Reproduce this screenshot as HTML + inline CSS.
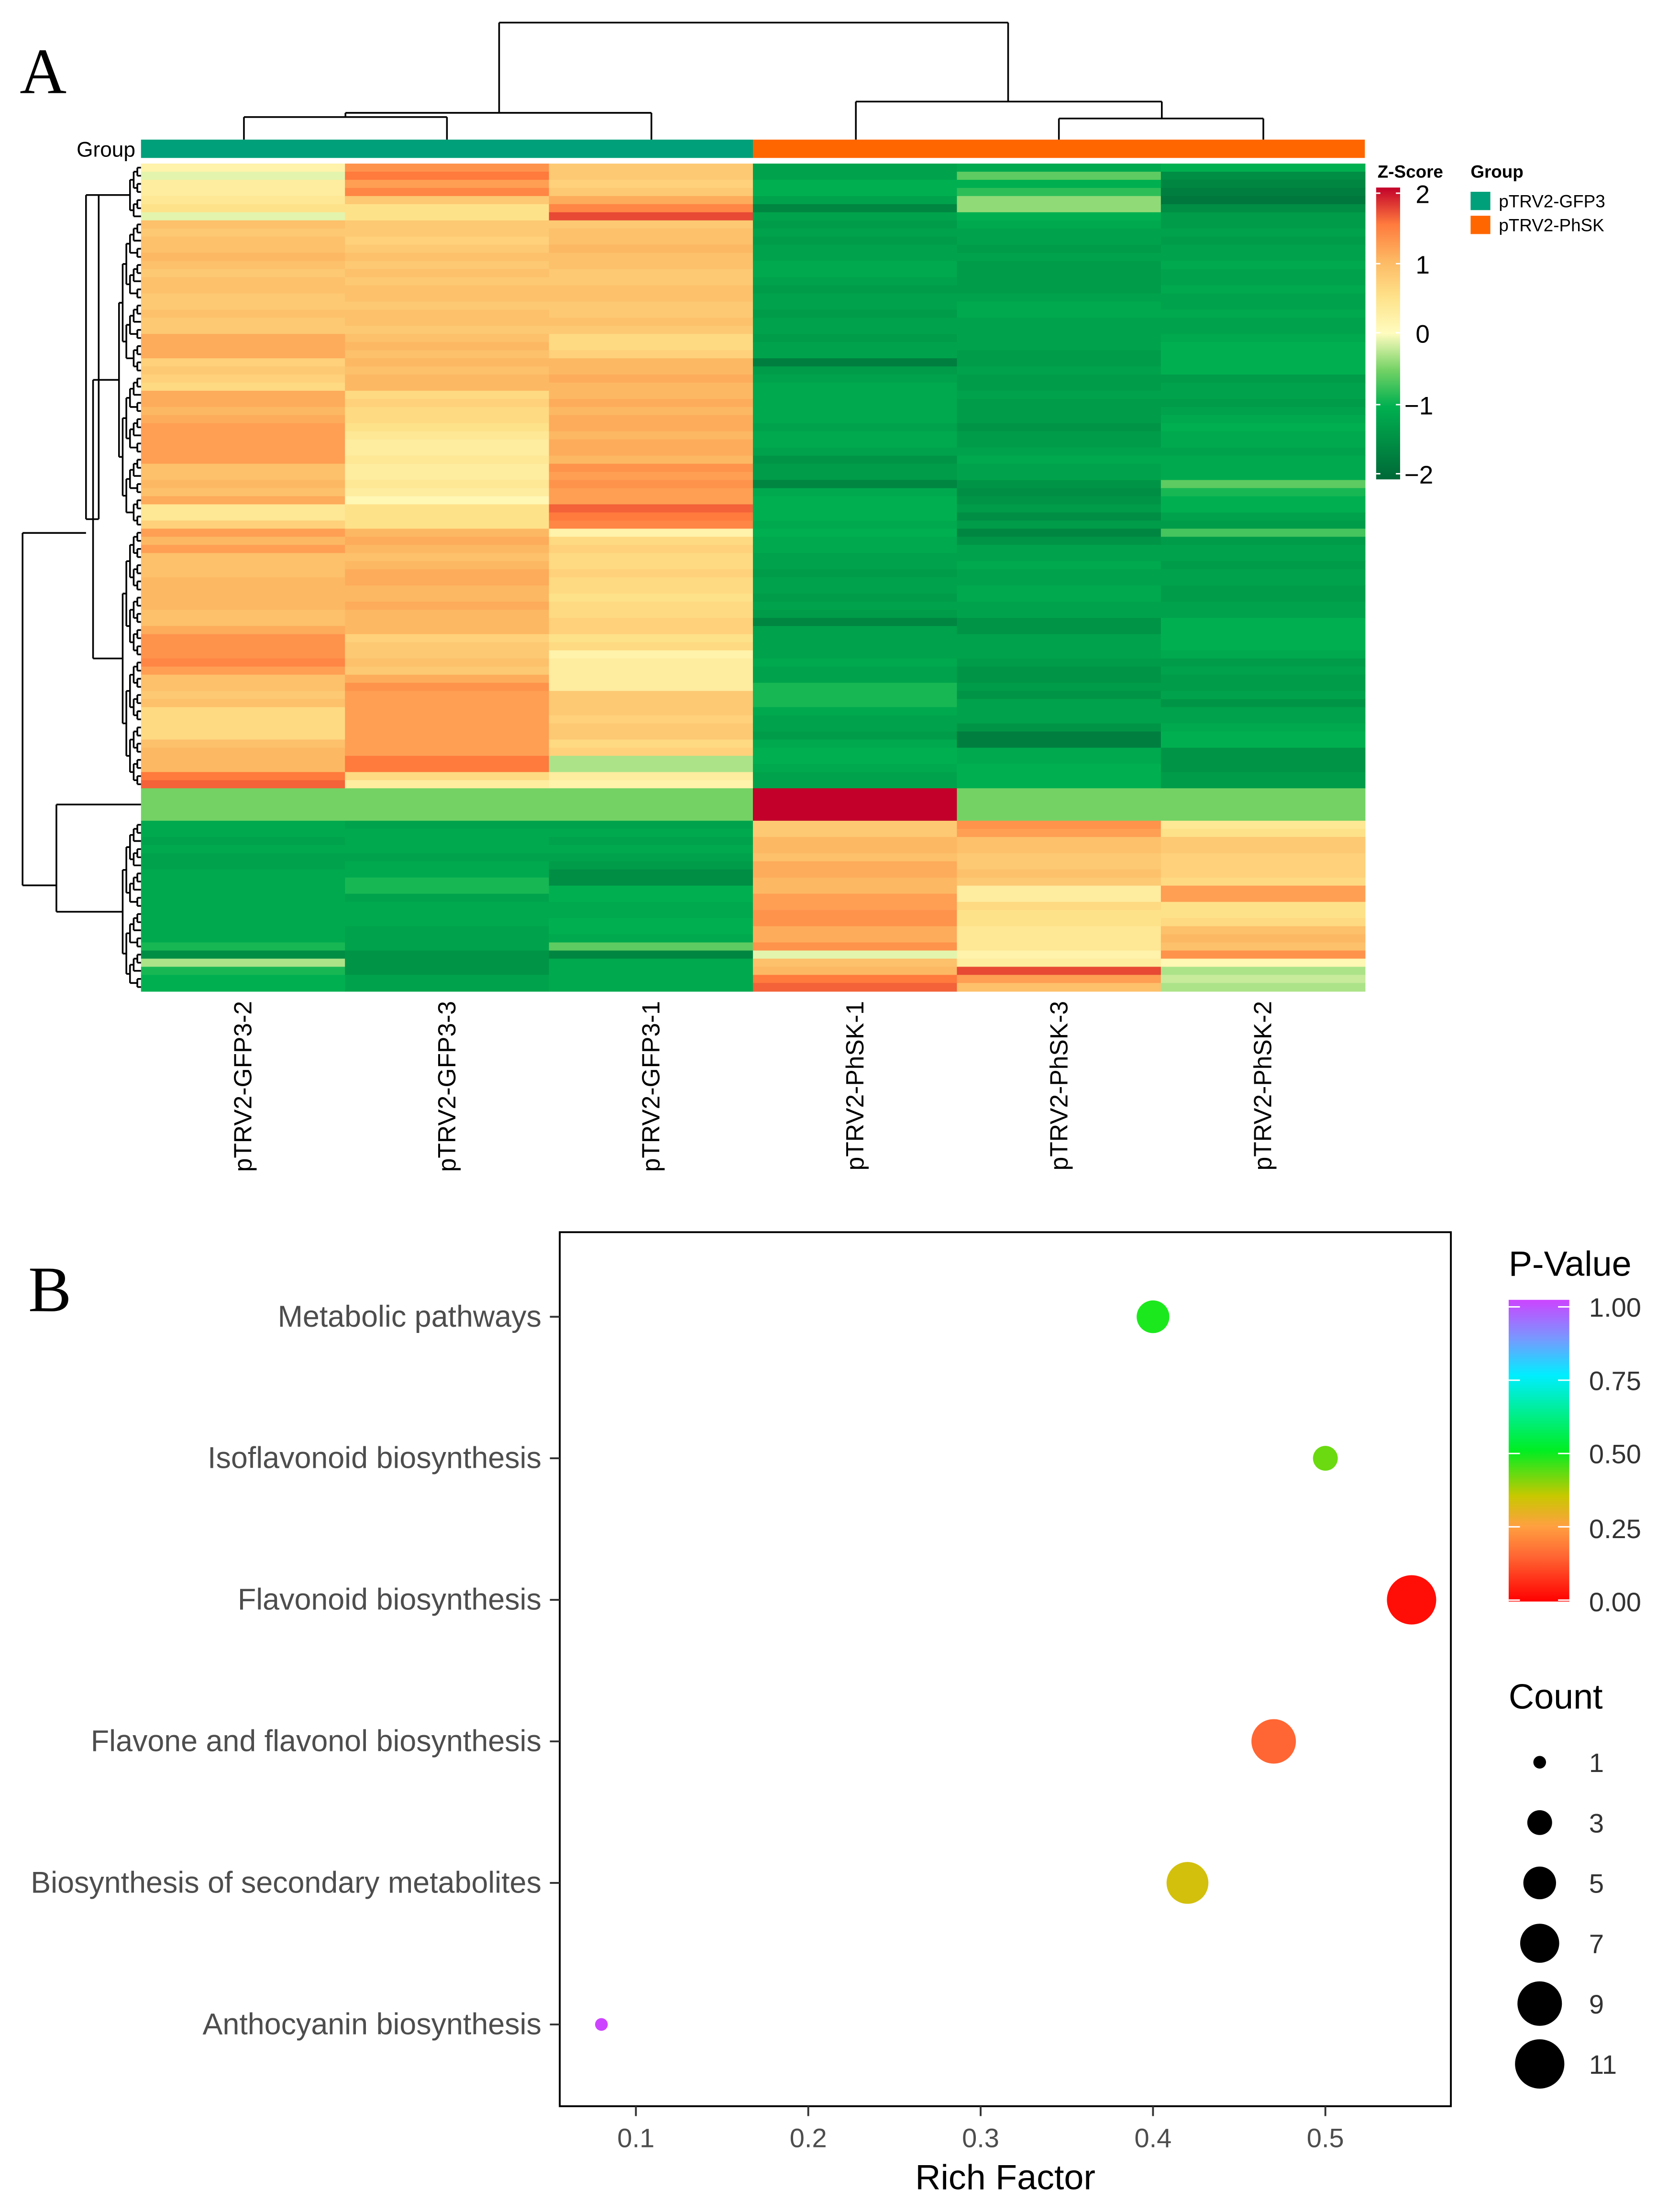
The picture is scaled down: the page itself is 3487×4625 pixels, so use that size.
<!DOCTYPE html>
<html><head><meta charset="utf-8"><style>
html,body{margin:0;padding:0;background:#fff}
svg{display:block}
</style></head><body>
<svg id="fig" xmlns="http://www.w3.org/2000/svg" width="3487" height="4625" viewBox="0 0 1183 1569" font-family="Liberation Sans, sans-serif">
<defs>
<linearGradient id="zgrad" x1="0" y1="1" x2="0" y2="0">
<stop offset="0" stop-color="#006837"/><stop offset="0.17" stop-color="#009a48"/><stop offset="0.25" stop-color="#00b050"/><stop offset="0.375" stop-color="#74d265"/><stop offset="0.5" stop-color="#fffcbf"/><stop offset="0.625" stop-color="#fee28a"/><stop offset="0.75" stop-color="#fdb863"/><stop offset="0.875" stop-color="#ff7a3d"/><stop offset="1" stop-color="#c2002a"/>
</linearGradient>
<linearGradient id="pgrad" x1="0" y1="1" x2="0" y2="0">
<stop offset="0" stop-color="#ff0000"/><stop offset="0.15" stop-color="#ff6633"/><stop offset="0.25" stop-color="#ffa040"/><stop offset="0.35" stop-color="#c8c800"/><stop offset="0.5" stop-color="#00ee22"/><stop offset="0.75" stop-color="#00eeff"/><stop offset="0.87" stop-color="#7799ff"/><stop offset="1" stop-color="#cc44ff"/>
</linearGradient>
</defs>
<text x="14" y="66" font-family="Liberation Serif, serif" font-size="46">A</text>
<text x="20" y="930" font-family="Liberation Serif, serif" font-size="46">B</text>
<g id="heat"></g>
<g id="dendro" stroke="#000" stroke-width="1.2" fill="none"></g>
<g stroke="#000" stroke-width="1.2" fill="none">
<path d="M354 16H715M354 16V80M715 16V72M245 80H462M245 80V83M173 83H317M173 83V99M317 83V99M462 80V99M607 72H824M607 72V99M824 72V84M751 84H896M751 84V99M896 84V99"/>
</g>
<text x="96" y="111" font-size="15" text-anchor="end">Group</text>
<rect x="100" y="99" width="434" height="13" fill="#00a07a"/>
<rect x="534" y="99" width="434" height="13" fill="#ff6600"/>
<g id="collabels"></g>
<g>
<text x="977" y="126" font-size="12.5" font-weight="bold">Z-Score</text>
<rect x="976" y="133" width="17" height="207" fill="url(#zgrad)"/>
<g font-size="18"><text x="1004" y="144">2</text><text x="1004" y="194">1</text><text x="1004" y="243">0</text><text x="996" y="294">−1</text><text x="996" y="343">−2</text></g>
<path d="M976 137h3M990 137h3M976 187h3M990 187h3M976 236h3M990 236h3M976 287h3M990 287h3M976 336h3M990 336h3" stroke="#fff" stroke-width="1"/>
</g>
<g>
<text x="1043" y="126" font-size="12.5" font-weight="bold">Group</text>
<rect x="1043" y="136" width="14" height="13" fill="#00a07a"/><text x="1063" y="147" font-size="12.5">pTRV2-GFP3</text>
<rect x="1043" y="153" width="14" height="13" fill="#ff6600"/><text x="1063" y="164" font-size="12.5">pTRV2-PhSK</text>
</g>
<g id="bplot">
<rect x="397" y="874" width="632" height="620" fill="none" stroke="#000" stroke-width="1.3"/>
</g>
<text x="713" y="1553" font-size="25" text-anchor="middle">Rich Factor</text>
<g>
<text x="1070" y="905" font-size="25">P-Value</text>
<rect x="1070" y="922" width="43" height="214" fill="url(#pgrad)"/>
<g font-size="19" fill="#333"><text x="1127" y="934">1.00</text><text x="1127" y="986">0.75</text><text x="1127" y="1038">0.50</text><text x="1127" y="1091">0.25</text><text x="1127" y="1143">0.00</text></g>
<path d="M1070 927h8M1105 927h8M1070 979h8M1105 979h8M1070 1031h8M1105 1031h8M1070 1083h8M1105 1083h8M1070 1135h8M1105 1135h8" stroke="#fff" stroke-width="1"/>
</g>
<g id="sizeleg">
<text x="1070" y="1212" font-size="25">Count</text>
</g>
</svg>
<script>
var NS='http://www.w3.org/2000/svg';
// Heatmap data (z-scores), rows top->bottom, one array per sample column
var sampleNames=['pTRV2-GFP3-2','pTRV2-GFP3-3','pTRV2-GFP3-1','pTRV2-PhSK-1','pTRV2-PhSK-3','pTRV2-PhSK-2'];
var colGFP3_2=[0.2,-0.1,0.3,0.3,0.4,0.5,-0.1,
0.9,0.8,0.9,0.9,1.0,0.9,0.8,0.9,0.9,0.8,0.8,0.9,0.8,0.8,
1.1,1.1,1.1,0.7,0.8,0.7,0.6,
1.1,1.1,1.0,1.1,1.2,1.2,1.2,1.2,1.2,
0.9,0.9,1.0,0.9,1.1,0.4,0.4,0.7,1.2,1.0,1.2,
0.9,0.9,0.9,1.0,1.0,1.0,1.0,0.9,0.9,1.1,
1.3,1.3,1.3,1.4,1.2,0.9,0.9,0.8,0.9,0.6,0.6,0.6,0.6,0.9,1.0,1.0,1.0,1.5,1.6,
-0.5,-0.5,-0.5,-0.5,
-1.1,-1.1,-1.2,-1.1,-1.2,-1.2,-1.1,-1.1,-1.1,-1.1,-1.1,-1.1,-1.1,-1.1,-1.1,
-0.9,-1.5,-0.3,-0.9,-1.0,-1.0];
var colGFP3_3=[1.3,1.5,1.2,1.4,0.8,0.5,0.5,
0.8,0.8,0.7,0.8,0.9,0.8,0.9,0.8,0.9,0.9,0.8,0.9,0.9,0.8,
0.9,1.0,0.9,1.0,0.9,1.0,1.0,
0.6,0.7,0.6,0.6,0.5,
0.4,0.3,0.3,0.4,0.3,0.3,0.4,0.3,
0.1,0.5,0.5,0.5,
1.0,1.1,1.0,0.9,1.0,1.1,1.1,1.0,1.0,1.1,1.0,1.0,1.0,
0.7,0.8,0.8,0.9,0.8,1.1,1.3,
1.2,1.2,1.2,1.2,1.2,1.2,1.2,1.2,1.5,1.5,0.6,0.3,
-0.5,-0.5,-0.5,-0.5,
-1.2,-1.1,-1.1,-1.1,-1.2,-1.1,-1.1,-0.9,-0.9,-1.2,-1.1,-1.1,-1.1,-1.2,-1.2,
-1.2,-1.4,-1.4,-1.4,-1.2,-1.2];
var colGFP3_1=[0.8,0.8,0.7,0.8,1.1,1.4,1.7,
0.8,0.9,0.9,1.0,0.9,0.9,0.8,0.8,0.9,0.9,0.8,0.8,0.9,0.8,
0.6,0.6,0.7,1.0,1.0,1.1,1.0,
1.0,1.1,1.0,1.1,1.1,1.0,1.1,1.1,1.0,
1.3,1.2,1.3,1.2,1.2,1.6,1.5,1.4,
0.2,0.6,0.7,0.6,0.6,0.7,0.6,0.6,0.5,0.6,0.6,0.7,0.7,
0.5,0.6,0.2,0.3,0.3,0.3,0.3,
0.8,0.8,0.8,0.7,0.8,0.8,0.6,0.7,-0.3,-0.3,0.3,0.2,
-0.5,-0.5,-0.5,-0.5,
-1.2,-1.1,-1.2,-1.1,-1.2,-1.3,-1.5,-1.5,-1.0,-1.0,-1.1,-1.1,-1.0,-1.0,-1.1,
-0.6,-1.6,-1.1,-1.1,-1.1,-1.1];
var colPhSK_1=[-1.2,-1.2,-1.0,-1.0,-1.2,-1.6,-1.2,
-1.3,-1.2,-1.3,-1.2,-1.2,-1.1,-1.1,-1.2,-1.3,-1.2,-1.2,-1.3,-1.2,-1.2,
-1.3,-1.2,-1.2,-1.7,-1.3,-1.2,-1.1,
-1.1,-1.1,-1.1,-1.1,-1.2,-1.1,-1.1,-1.2,-1.4,-1.3,
-1.3,-1.6,-1.1,-1.0,-1.0,-1.0,-1.1,
-1.0,-1.1,-1.1,-1.2,-1.2,-1.3,-1.2,-1.2,-1.3,-1.2,-1.3,-1.6,-1.2,
-1.2,-1.2,-1.2,-1.1,-1.2,-1.2,-0.9,-0.9,-0.9,
-1.1,-1.2,-1.2,-1.3,-1.1,-1.0,-1.0,-1.1,-1.2,-1.2,
2.0,2.0,2.0,2.0,
0.8,0.8,1.0,1.0,0.9,1.1,1.1,1.0,1.0,1.2,1.2,1.3,1.3,1.1,1.1,
1.3,-0.1,0.9,1.0,1.5,1.6];
var colPhSK_3=[-1.1,-0.6,-1.0,-0.8,-0.4,-0.4,-1.0,
-1.1,-1.2,-1.2,-1.3,-1.2,-1.3,-1.3,-1.3,-1.3,-1.2,-1.1,-1.1,-1.2,-1.2,
-1.2,-1.2,-1.3,-1.3,-1.2,-1.3,-1.3,
-1.2,-1.3,-1.3,-1.3,-1.4,-1.3,-1.3,-1.2,-1.1,-1.2,
-1.2,-1.4,-1.5,-1.4,-1.3,-1.5,-1.3,
-1.6,-1.4,-1.2,-1.2,-1.1,-1.2,-1.2,-1.1,-1.1,-1.2,-1.2,-1.4,-1.4,
-1.2,-1.2,-1.2,-1.3,-1.4,-1.4,-1.3,-1.4,-1.2,
-1.2,-1.2,-1.4,-1.7,-1.7,-1.1,-1.1,-1.0,-1.0,-1.0,
-0.5,-0.5,-0.5,-0.5,
1.3,1.2,0.9,0.9,0.8,0.8,0.9,0.8,0.3,0.3,0.6,0.5,0.5,0.4,0.4,
0.4,0.2,0.3,1.7,1.2,0.9];
var colPhSK_2=[-1.0,-1.5,-1.6,-1.7,-1.8,-1.5,-1.3,
-1.3,-1.2,-1.3,-1.2,-1.2,-1.1,-1.2,-1.2,-1.1,-1.2,-1.2,-1.1,-1.2,-1.2,
-1.1,-1.0,-1.0,-1.0,-1.0,-1.3,-1.2,
-1.2,-1.3,-1.2,-1.1,-1.0,-1.1,-1.1,-1.2,-1.1,-1.1,
-1.1,-0.6,-0.9,-1.0,-1.0,-1.2,-1.3,
-0.7,-1.3,-1.2,-1.2,-1.3,-1.2,-1.2,-1.3,-1.3,-1.2,-1.2,-1.0,-1.0,
-1.0,-1.0,-1.1,-1.3,-1.2,-1.3,-1.3,-1.2,-1.4,
-1.2,-1.2,-1.1,-1.0,-1.0,-1.4,-1.4,-1.4,-1.3,-1.3,
-0.5,-0.5,-0.5,-0.5,
0.4,0.5,0.8,0.8,0.7,0.7,0.7,0.6,1.2,1.2,0.5,0.5,0.6,0.9,1.0,
0.9,1.3,0.1,-0.3,-0.2,-0.3];
var heatColumns=[colGFP3_2,colGFP3_3,colGFP3_1,colPhSK_1,colPhSK_3,colPhSK_2];

// Enrichment data
var pathways=['Metabolic pathways','Isoflavonoid biosynthesis','Flavonoid biosynthesis','Flavone and flavonol biosynthesis','Biosynthesis of secondary metabolites','Anthocyanin biosynthesis'];
var richFactor=[0.40,0.50,0.55,0.47,0.42,0.08];
var pValues=[0.48,0.42,0.02,0.15,0.33,1.0];
var counts=[5,3,11,9,8,1];
var xTicks=[0.1,0.2,0.3,0.4,0.5];
var countLegend=[1,3,5,7,9,11];

function hex(h){return [parseInt(h.substr(1,2),16),parseInt(h.substr(3,2),16),parseInt(h.substr(5,2),16)];}
function interp(stops,v){
  if(v<=stops[0][0])return 'rgb('+hex(stops[0][1])+')';
  for(var i=1;i<stops.length;i++){if(v<=stops[i][0]){var a=stops[i-1],b=stops[i],t=(v-a[0])/(b[0]-a[0]);var ca=hex(a[1]),cb=hex(b[1]);return 'rgb('+ca.map(function(c,k){return Math.round(c+(cb[k]-c)*t);}).join(',')+')';}}
  return 'rgb('+hex(stops[stops.length-1][1])+')';
}
var zStops=[[-2,'#006837'],[-1.33,'#009a48'],[-1,'#00b050'],[-0.5,'#74d265'],[0,'#fffcbf'],[0.5,'#fee28a'],[1,'#fdb863'],[1.5,'#ff7a3d'],[2,'#c2002a']];
var pStops=[[0,'#ff0000'],[0.15,'#ff6633'],[0.25,'#ffa040'],[0.35,'#c8c800'],[0.5,'#00ee22'],[0.75,'#00eeff'],[0.87,'#7799ff'],[1,'#cc44ff']];

var hx0=100,hx1=968,hy0=116,hy1=703;
var nRows=colGFP3_2.length,nCols=heatColumns.length;
var cw=(hx1-hx0)/nCols,rh=(hy1-hy0)/nRows;
function rowY(i){return hy0+i*rh;}
function colX(j){return hx0+j*cw;}
var heat=document.getElementById('heat');
for(var j=0;j<nCols;j++){for(var i=0;i<nRows;i++){
  var r=document.createElementNS(NS,'rect');
  r.setAttribute('x',colX(j));r.setAttribute('y',rowY(i));r.setAttribute('width',cw+0.4);r.setAttribute('height',rh+0.4);
  r.setAttribute('fill',interp(zStops,heatColumns[j][i]));
  
  
  heat.appendChild(r);
}}
var cl=document.getElementById('collabels');
for(var j=0;j<nCols;j++){
  var t=document.createElementNS(NS,'text');var cx=colX(j)+cw/2+6;
  t.setAttribute('transform','translate('+cx+',710) rotate(-90)');t.setAttribute('text-anchor','end');t.setAttribute('font-size','17.5');
  t.textContent=sampleNames[j];
  
  
  cl.appendChild(t);
}
// row dendrogram (approximate)
var dg=document.getElementById('dendro');var dpath='';
function build(s,e){
  if(s===e){return [rowY(s)+rh/2,100];}
  var m=Math.floor((s+e)/2);var a=build(s,m),b=build(m+1,e);
  var x=Math.min(a[1],b[1])-2.6;
  dpath+='M'+x+' '+a[0]+'H'+a[1]+'M'+x+' '+b[0]+'H'+b[1]+'M'+x+' '+a[0]+'V'+b[0];
  return [(a[0]+b[0])/2,x];
}
function sub(s,e,xr){var n=build(s,e);dpath+='M'+xr+' '+n[0]+'H'+n[1];return n[0];}
var yA=sub(0,6,70),yB=sub(7,44,66),yC=sub(45,76,66);
var yBC=(yB+yC)/2;
dpath+='M66 '+yB+'V'+yC+'M66 '+yBC+'H70M70 '+yA+'V'+yBC;
var yAB=(yA+yBC)/2;
dpath+='M61 '+yA+'V'+yBC+'M61 '+yA+'H70M61 '+yBC+'H70';
var yGreen=rowY(79);dpath+='M40 '+yGreen+'H100';
var yBot=sub(81,101,63);
dpath+='M40 '+yGreen+'V'+yBot+'M40 '+yBot+'H63';
var yR1=378,yR2=628;
dpath+='M16 '+yR1+'H61M16 '+yR2+'H40M16 '+yR1+'V'+yR2;
var pth=document.createElementNS(NS,'path');pth.setAttribute('d',dpath);


dg.appendChild(pth);

// Panel B
function xs(v){return 451+(v-0.1)*(940-451)/0.4;}
function ys(i){return 934+i*100.4;}
function rs(c){return Math.sqrt(20.25+(306-20.25)*(c-1)/10);}
var bp=document.getElementById('bplot');
for(var i=0;i<pathways.length;i++){
  var t=document.createElementNS(NS,'text');t.setAttribute('x',384);t.setAttribute('y',ys(i)+7);t.setAttribute('text-anchor','end');t.setAttribute('font-size','21.3');t.setAttribute('fill','#4d4d4d');t.textContent=pathways[i];
  
  
  bp.appendChild(t);
  var tk=document.createElementNS(NS,'line');tk.setAttribute('x1',390);tk.setAttribute('x2',397);tk.setAttribute('y1',ys(i));tk.setAttribute('y2',ys(i));tk.setAttribute('stroke','#333');tk.setAttribute('stroke-width','1.3');
  
  
  bp.appendChild(tk);
  var c=document.createElementNS(NS,'circle');c.setAttribute('cx',xs(richFactor[i]));c.setAttribute('cy',ys(i));c.setAttribute('r',rs(counts[i]));c.setAttribute('fill',interp(pStops,pValues[i]));
  
  
  bp.appendChild(c);
}
for(var k=0;k<xTicks.length;k++){
  var x=xs(xTicks[k]);
  var tk=document.createElementNS(NS,'line');tk.setAttribute('x1',x);tk.setAttribute('x2',x);tk.setAttribute('y1',1494);tk.setAttribute('y2',1501);tk.setAttribute('stroke','#333');tk.setAttribute('stroke-width','1.3');
  
  
  bp.appendChild(tk);
  var t=document.createElementNS(NS,'text');t.setAttribute('x',x);t.setAttribute('y',1523);t.setAttribute('text-anchor','middle');t.setAttribute('font-size','19');t.setAttribute('fill','#4d4d4d');t.textContent=xTicks[k];
  
  
  bp.appendChild(t);
}
var sl=document.getElementById('sizeleg');
for(var k=0;k<countLegend.length;k++){
  var y=1250+k*42.8;
  var c=document.createElementNS(NS,'circle');c.setAttribute('cx',1092);c.setAttribute('cy',y);c.setAttribute('r',rs(countLegend[k]));c.setAttribute('fill','#000');
  
  
  sl.appendChild(c);
  var t=document.createElementNS(NS,'text');t.setAttribute('x',1127);t.setAttribute('y',y+7);t.setAttribute('font-size','19');t.setAttribute('fill','#333');t.textContent=countLegend[k];
  
  
  sl.appendChild(t);
}
</script>
</body></html>
